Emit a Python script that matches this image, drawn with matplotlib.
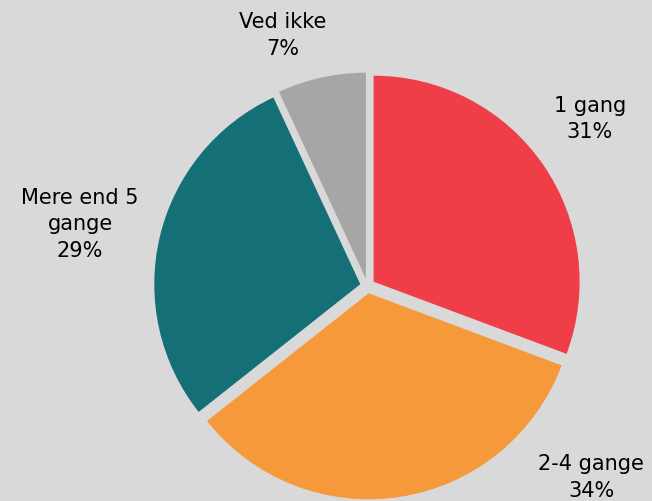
import matplotlib.pyplot as plt

# data
labels = ['1 gang', '2-4 gange', 'Mere end 5\ngange', 'Ved ikke']
values = [31, 34, 29, 7]
colors = ['#EF3E47', '#F5993A', '#147076', '#A6A6A6']

# label centres (in pie radii, relative to pie centre)
label_xy = [(1.08, 0.81), (1.085, -0.93), (-1.395, 0.30), (-0.41, 1.215)]

bg = '#D9D9D9'
fig = plt.figure(figsize=(6.52, 5.01), dpi=100, facecolor=bg)
ax = fig.add_axes([0, 0, 1, 1])
ax.set_facecolor(bg)

ax.pie(values, colors=colors, startangle=90, counterclock=False,
       explode=[0.036] * len(values), radius=1.0,
       wedgeprops=dict(linewidth=0))

for lab, v, (x, y) in zip(labels, values, label_xy):
    ax.text(x, y, f'{lab}\n{v}%', ha='center', va='center',
            fontsize=15, color='black', linespacing=1.4,
            family='DejaVu Sans')

ax.set_xlim(-1.784, 1.381)
ax.set_ylim(-1.044, 1.388)
ax.set_aspect('equal')
ax.axis('off')

fig.savefig('out.png', dpi=100, facecolor=bg)
